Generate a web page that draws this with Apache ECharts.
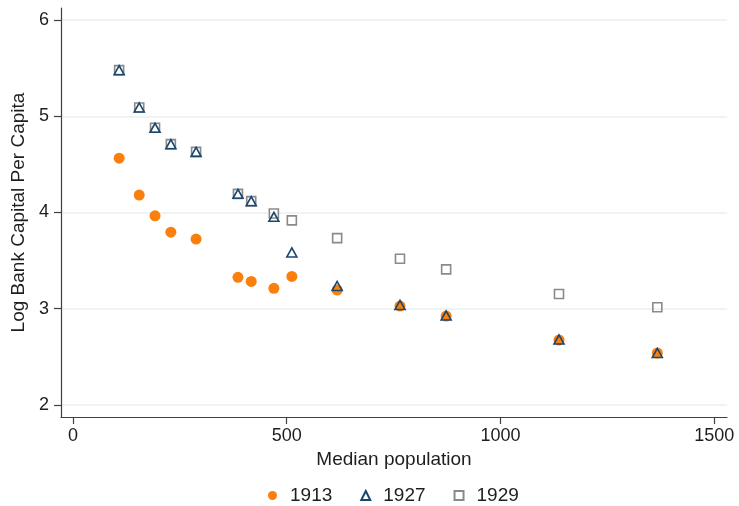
<!DOCTYPE html>
<html>
<head>
<meta charset="utf-8">
<script src="https://cdn.jsdelivr.net/npm/echarts@6/dist/echarts.min.js"></script>
<style>html,body{margin:0;padding:0;background:#fff}#c{width:739px;height:506px}</style>
</head>
<body>
<div id="c"></div>
<script>
const xPop = [108, 155, 192, 229, 288, 386, 417, 470, 512, 618, 765, 873, 1137, 1367];
const y1913 = [4.565, 4.181, 3.966, 3.796, 3.724, 3.326, 3.284, 3.212, 3.336, 3.194, 3.028, 2.924, 2.675, 2.540];
const y1927 = [5.479, 5.091, 4.880, 4.710, 4.630, 4.194, 4.118, 3.955, 3.585, 3.236, 3.040, 2.930, 2.680, 2.540];
const y1929 = [5.479, 5.091, 4.880, 4.710, 4.630, 4.194, 4.118, 3.990, 3.918, 3.734, 3.519, 3.409, 3.153, 3.015];
const xTicks = [0, 500, 1000, 1500];
const yTicks = [2, 3, 4, 5, 6];
const seriesNames = ['1913', '1927', '1929'];

const pairs = ys => xPop.map((x, i) => [x, ys[i]]);
const font = 'Liberation Sans, Arial, Helvetica, sans-serif';
const axisCol = '#404040';
const txt = '#1e1e1e';

const chart = echarts.init(document.getElementById('c'), null, {renderer: 'canvas'});
chart.setOption({
  animation: false,
  backgroundColor: '#ffffff',
  textStyle: {fontFamily: font},
  grid: {left: 61, right: 12, top: 8, bottom: 89, containLabel: false},
  legend: {
    data: seriesNames,
    left: 268, top: 486, padding: 0,
    itemWidth: 9, itemHeight: 9, itemGap: 28,
    symbolKeepAspect: true,
    textStyle: {fontSize: 19, color: txt, fontFamily: font, padding: [0, 0, 0, 8]}
  },
  xAxis: {
    type: 'value', min: -28, max: 1530,
    name: 'Median population', nameLocation: 'middle', nameGap: 19,
    nameTextStyle: {fontSize: 19, color: txt, fontFamily: font},
    axisLine: {show: true, onZero: false, lineStyle: {color: axisCol, width: 1.2}},
    axisTick: {show: true, length: 7, customValues: xTicks, lineStyle: {color: axisCol, width: 1.2}},
    axisLabel: {customValues: xTicks, margin: 10, fontSize: 18, color: txt, fontFamily: font,
                formatter: v => String(v)},
    splitLine: {show: false}
  },
  yAxis: {
    type: 'value', min: 1.875, max: 6.125,
    name: 'Log Bank Capital Per Capita', nameLocation: 'middle', nameGap: 32,
    nameTextStyle: {fontSize: 19, color: txt, fontFamily: font},
    axisLine: {show: true, onZero: false, lineStyle: {color: axisCol, width: 1.2}},
    axisTick: {show: true, length: 7, customValues: yTicks, lineStyle: {color: axisCol, width: 1.2}},
    axisLabel: {customValues: yTicks, margin: 12, fontSize: 18, color: txt, fontFamily: font,
                formatter: v => String(v)},
    splitLine: {show: true, lineStyle: {color: '#e9eff2', width: 1.5}}
  },
  series: [
    {
      name: '1913', type: 'scatter', data: pairs(y1913), z: 2,
      symbol: 'circle', symbolSize: 11,
      itemStyle: {color: '#fb7f0c', opacity: 1}
    },
    {
      name: '1929', type: 'scatter', data: pairs(y1929), z: 3,
      symbol: 'rect', symbolSize: 9,
      itemStyle: {color: 'rgba(0,0,0,0)', borderColor: '#8a8a8a', borderWidth: 1.6, opacity: 1}
    },
    {
      name: '1927', type: 'scatter', data: pairs(y1927), z: 4,
      symbol: 'triangle', symbolSize: [10, 9],
      itemStyle: {color: 'rgba(0,0,0,0)', borderColor: '#1a476f', borderWidth: 1.6, opacity: 1}
    }
  ]
});
</script>
</body>
</html>
